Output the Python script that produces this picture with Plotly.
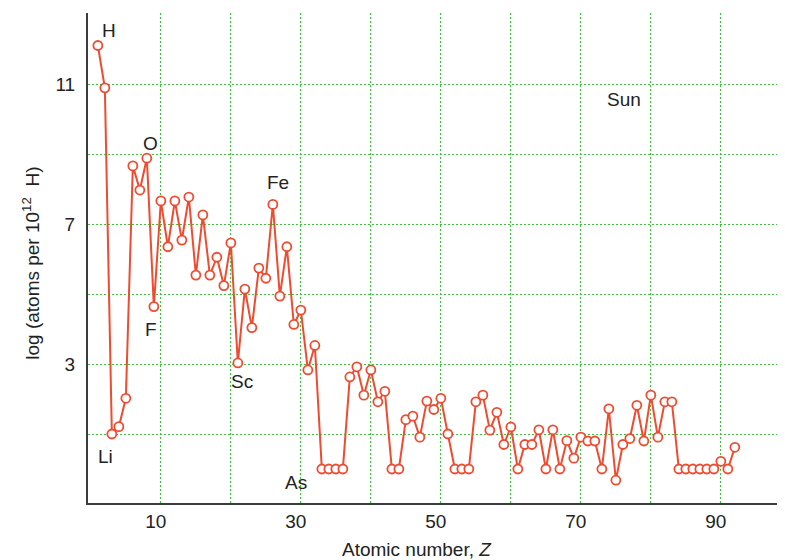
import plotly.graph_objects as go

# Solar abundances, log(atoms per 10^12 H), Z = 1..92 (missing values plotted at 0)
atomic_number = list(range(1, 93))
log_abundance = [
    12.10, 10.89, 1.00, 1.21, 2.02, 8.66, 7.97, 8.88, 4.64, 7.66,   # 1-10
    6.35, 7.66, 6.54, 7.77, 5.54, 7.26, 5.54, 6.05, 5.24, 6.46,     # 11-20
    3.03, 5.14, 4.04, 5.74, 5.45, 7.56, 4.94, 6.35, 4.13, 4.54,     # 21-30
    2.83, 3.53, 0.00, 0.00, 0.00, 0.00, 2.63, 2.92, 2.11, 2.83,     # 31-40
    1.92, 2.22, 0.00, 0.00, 1.41, 1.51, 0.91, 1.94, 1.70, 2.02,     # 41-50
    1.00, 0.00, 0.00, 0.00, 1.92, 2.11, 1.11, 1.62, 0.70, 1.20,     # 51-60
    0.00, 0.70, 0.70, 1.12, 0.00, 1.12, 0.00, 0.81, 0.31, 0.91,     # 61-70
    0.80, 0.80, 0.00, 1.72, -0.32, 0.70, 0.87, 1.82, 0.80, 2.11,    # 71-80
    0.91, 1.92, 1.92, 0.00, 0.00, 0.00, 0.00, 0.00, 0.00, 0.22,     # 81-90
    0.00, 0.62,                                                     # 91-92
]

# Element labels: symbol -> atomic number, and label offset in pixels (dx, dy; dy up)
label_symbols = ["H", "O", "F", "Fe", "Sc", "Li", "As"]
label_z = [1, 8, 9, 26, 21, 3, 33]
label_dx = [11, 4, -3, 5, 4, -6, -26]
label_dy = [15, 15, -23, 22, -19, -22, -13]

x_tick_vals = [10, 20, 30, 40, 50, 60, 70, 80, 90]
x_tick_text = ["10", "", "30", "", "50", "", "70", "", "90"]
y_tick_vals = [-1, 1, 3, 5, 7, 9, 11, 13]
y_tick_text = ["\u22121", "", "3", "", "7", "", "11", ""]

RED = "#EE4B30"
GRID = "#3CC23C"
FONT = "Liberation Sans, Arial, Helvetica, sans-serif"
TXT = "#222222"
FS = 19

fig = go.Figure()
fig.add_trace(go.Scatter(
    x=atomic_number, y=log_abundance, mode="lines+markers",
    line=dict(color=RED, width=2),
    marker=dict(symbol="circle", size=9, color="white", line=dict(color=RED, width=1.8)),
    showlegend=False, hoverinfo="x+y",
))

annotations = []
for sym, z, dx, dy in zip(label_symbols, label_z, label_dx, label_dy):
    annotations.append(dict(
        x=z, y=log_abundance[z - 1], xref="x", yref="y", text=sym,
        showarrow=False, xshift=dx, yshift=dy, xanchor="center", yanchor="middle",
        font=dict(size=FS, color=TXT, family=FONT),
    ))
annotations.append(dict(x=0.7697, y=0.823, xref="paper", yref="paper", text="Sun",
                        showarrow=False, xanchor="center", yanchor="middle",
                        font=dict(size=FS, color=TXT, family=FONT)))
annotations.append(dict(x=0.472, y=-0.095, xref="paper", yref="paper",
                        text="Atomic number, <i>Z</i>",
                        showarrow=False, xanchor="center", yanchor="middle",
                        font=dict(size=FS, color=TXT, family=FONT)))
annotations.append(dict(x=-0.082, y=0.49, xref="paper", yref="paper",
                        text="log (atoms per 10<sup>12</sup>  H)", textangle=-90,
                        showarrow=False, xanchor="center", yanchor="middle",
                        font=dict(size=FS, color=TXT, family=FONT)))

# The page body adds an 8px offset; size the figure so the plot lands where the reference has it.
# Ranges chosen so 1 Z = 7 px and 1 dex = 35 px, with grid lines landing crisply on pixels.
fig.update_layout(
    width=777, height=552,
    margin=dict(l=80, r=0, t=5, b=57, pad=0),
    paper_bgcolor="white", plot_bgcolor="white",
    font=dict(family=FONT, size=FS, color=TXT),
    annotations=annotations,
    xaxis=dict(
        range=[-0.4071, 99.1643], tickmode="array", tickvals=x_tick_vals, ticktext=x_tick_text,
        showgrid=True, gridcolor=GRID, griddash="2px,2px", gridwidth=1,
        showline=True, linecolor="#3c3c3c", linewidth=2, zeroline=False,
        ticks="", ticklabelshift=-5, tickfont=dict(size=FS, color=TXT, family=FONT),
    ),
    yaxis=dict(
        range=[-0.97143, 13.02857], tickmode="array", tickvals=y_tick_vals, ticktext=y_tick_text,
        showgrid=True, gridcolor=GRID, griddash="2px,2px", gridwidth=1,
        showline=True, linecolor="#3c3c3c", linewidth=2, zeroline=False,
        ticks="", ticklabelstandoff=7, tickfont=dict(size=FS, color=TXT, family=FONT),
    ),
)

fig.write_html("out.html")
